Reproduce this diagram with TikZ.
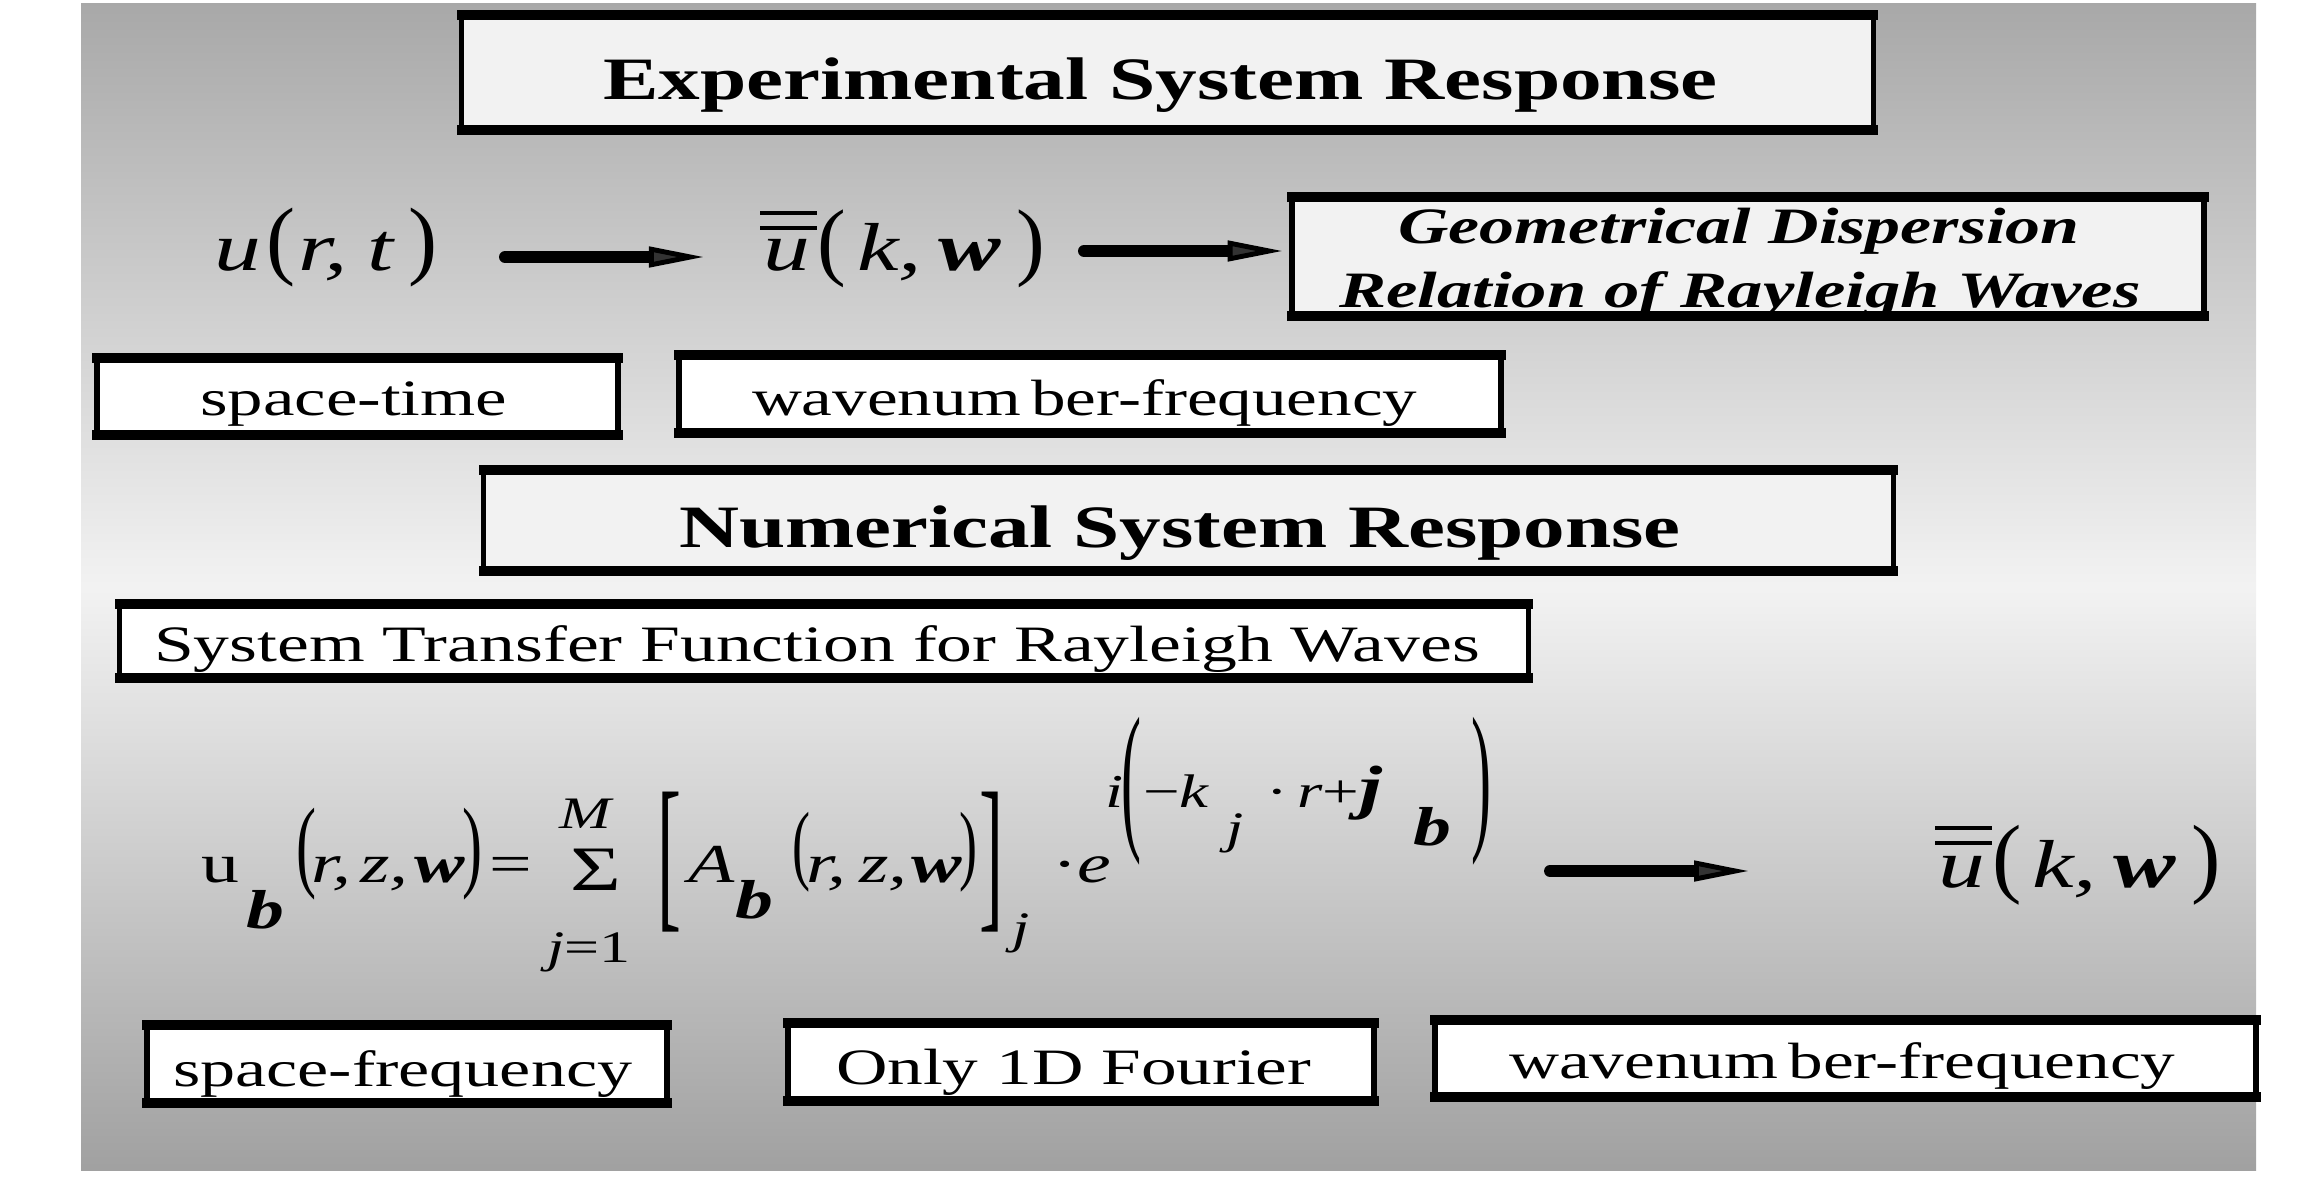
\documentclass[tikz,border=0pt]{standalone}
\usepackage{graphicx}
\usepackage{fontspec}
\setmainfont{Liberation Serif}
\usetikzlibrary{arrows.meta,calc}
\definecolor{bgtop}{gray}{0.66}
\definecolor{bgmid}{gray}{0.95}
\definecolor{bgbot}{gray}{0.63}
\definecolor{boxgray}{gray}{0.95}
\newcommand\sx[2]{\scalebox{1.38}[1]{\fontsize{#1}{#1}\selectfont #2}}
\newcommand\fw[3]{\resizebox{#1}{\height}{\fontsize{#2}{#2}\selectfont #3}}
\newcommand\rz[3]{\resizebox*{#1}{#2}{\fontsize{40pt}{40pt}\selectfont #3}}
\newcommand\bi[1]{\textbf{\textit{#1}}}
\newcommand\edges[1]{\draw[edge] (#1.north west) -- (#1.north east) (#1.south west) -- (#1.south east);}
\def\szU{19.3pt}
\def\szF{15.6pt}
\def\szL{12.8pt}
\def\szE{13.4pt}
\begin{document}
\begin{tikzpicture}[x=0.01cm,y=-0.01cm,
  bx/.style={draw,line width=1.6pt,inner sep=0pt,outer sep=0pt},
  edge/.style={line width=2.8pt,line cap=rect},
  lbl/.style={inner sep=0pt,outer sep=0pt,anchor=base west},
  par/.style={inner sep=0pt,outer sep=0pt,anchor=north west},
  bar/.style={line width=0.9pt},
  bigarrow/.style={line width=3.4pt,line cap=round,
    -{Triangle[length=0.55cm,width=0.2cm,line width=1.4pt,fill=black!80]}}]
\useasboundingbox (0,0) rectangle (2301,1197);
\shade[top color=bgtop,bottom color=bgbot,middle color=bgmid] (81,4) rectangle (2256,1170);

% boxes
\node[bx,fill=boxgray,minimum width=14.11cm,minimum height=1.15cm] (A) at (1167.5,72.5) {};
\node[bx,fill=boxgray,minimum width=9.12cm,minimum height=1.19cm] (B) at (1748,256.5) {};
\node[bx,fill=white,minimum width=5.21cm,minimum height=0.77cm] (C) at (357.5,396.5) {};
\node[bx,fill=white,minimum width=8.22cm,minimum height=0.78cm] (D) at (1090,394) {};
\node[bx,fill=boxgray,minimum width=14.09cm,minimum height=1.01cm] (E) at (1188.5,520.5) {};
\node[bx,fill=white,minimum width=14.08cm,minimum height=0.74cm] (F) at (824,641) {};
\node[bx,fill=white,minimum width=5.20cm,minimum height=0.78cm] (G) at (407,1064) {};
\node[bx,fill=white,minimum width=5.86cm,minimum height=0.78cm] (H) at (1081,1062) {};
\node[bx,fill=white,minimum width=8.21cm,minimum height=0.77cm] (I) at (1845.5,1058.5) {};
\edges{A}\edges{B}\edges{C}\edges{D}\edges{E}\edges{F}\edges{G}\edges{H}\edges{I}

% box texts
\node[lbl] (tA) at (603,100) {\fw{11.14cm}{17.1pt}{\bfseries Experimental System Response}};
\node[lbl] (tB1) at (1398,243) {\fw{6.81cm}{14.5pt}{\bfseries\itshape Geometrical Dispersion}};
\node[lbl] (tB2) at (1339,307) {\fw{8.01cm}{14.5pt}{\bfseries\itshape Relation of Rayleigh Waves}};
\node[lbl] (tC) at (200,415) {\fw{3.07cm}{14.5pt}{space-time}};
\node[lbl] (tD) at (752,415) {\fw{6.65cm}{14.5pt}{wavenum\kern.15em ber-frequency}};
\node[lbl] (tE) at (679,547) {\fw{10.01cm}{17.1pt}{\bfseries Numerical System Response}};
\node[lbl] (tF) at (154,661) {\fw{13.25cm}{14.5pt}{System Transfer Function for Rayleigh Waves}};
\node[lbl] (tG) at (173,1086) {\fw{4.59cm}{14.5pt}{space-frequency}};
\node[lbl] (tH) at (836,1084) {\fw{4.75cm}{14.5pt}{Only 1D Fourier}};
\node[lbl] (tI) at (1509,1078) {\fw{6.66cm}{14.5pt}{wavenum\kern.15em ber-frequency}};

% top row: u(r,t) -> ubar(k,w)
\node[lbl] (r_u) at (214,270) {\sx{\szU}{\itshape u}};
\node[par] (r_lp) at (266,208) {\rz{!}{0.79cm}{(}};
\node[lbl] (r_r) at (298,270) {\sx{\szU}{\itshape r,}};
\node[lbl] (r_t) at (367,270) {\sx{\szU}{\itshape t}};
\node[par] (r_rp) at (408,208) {\rz{!}{0.79cm}{)}};
\node[lbl] (r_ub) at (763,270) {\sx{\szU}{\itshape u}};
\draw[bar] ($(r_ub.base west)+(-3,-57)$) -- ++(57,0) ($(r_ub.base west)+(-3,-42)$) -- ++(57,0);
\node[par] (r_lp2) at (817,210) {\rz{!}{0.78cm}{(}};
\node[lbl] (r_k) at (857,270) {\sx{\szU}{\itshape k,}};
\node[lbl] (r_w) at (938,270) {\sx{\szU}{\bi{w}}};
\node[par] (r_rp2) at (1016,210) {\rz{!}{0.78cm}{)}};

\coordinate (a1s) at (505,257);
\coordinate (a1e) at (704,257);
\draw[bigarrow] (a1s) -- (a1e);
\coordinate (a2s) at (1084,251);
\draw[bigarrow,shorten >=0.09cm] (a2s) -- (a2s -| B.west);

% formula
\node[lbl] (f_u) at (201,882) {\sx{\szF}{u}};
\node[lbl] (f_b1) at (246,928) {\sx{\szF}{\bi{b}}};
\node[par] (f_lp1) at (296,808) {\rz{0.2cm}{0.92cm}{(}};
\node[lbl] (f_r1) at (311,882) {\sx{\szF}{\itshape r,}};
\node[lbl] (f_z1) at (360,882) {\sx{\szF}{\itshape z,}};
\node[lbl] (f_w1) at (414,882) {\sx{\szF}{\bi{w}}};
\node[par] (f_rp1) at (462,808) {\rz{0.2cm}{0.92cm}{)}};
\node[lbl] (f_eq) at (489,882) {\sx{\szF}{=}};
\node[lbl] (f_M) at (559,828) {\sx{\szL}{\itshape M}};
\node[lbl] (f_sig) at (570,890) {\sx{18pt}{Σ}};
\node[lbl] (f_lim) at (547,962) {\sx{\szL}{\textit{j}=1}};
\node[par] (f_lb) at (657,792) {\rz{0.24cm}{1.4cm}{[}};
\node[lbl] (f_A) at (688,882) {\sx{\szF}{\itshape A}};
\node[lbl] (f_b2) at (735,918) {\sx{\szF}{\bi{b}}};
\node[par] (f_lp2) at (792,812) {\rz{0.18cm}{0.8cm}{(}};
\node[lbl] (f_r2) at (806,882) {\sx{\szF}{\itshape r,}};
\node[lbl] (f_z2) at (859,882) {\sx{\szF}{\itshape z,}};
\node[lbl] (f_w2) at (911,882) {\sx{\szF}{\bi{w}}};
\node[par] (f_rp2) at (959,812) {\rz{0.18cm}{0.8cm}{)}};
\node[par] (f_rb) at (979,792) {\rz{0.24cm}{1.4cm}{]}};
\node[lbl] (f_j2) at (1012,943) {\sx{\szL}{\itshape j}};
\node[lbl] (f_e) at (1052,882) {\sx{\szF}{·\textit{e}}};
\node[lbl] (f_i) at (1105,807) {\sx{\szE}{\itshape i}};
\node[par] (f_elp) at (1121,717) {\rz{0.2cm}{1.48cm}{(}};
\node[lbl] (f_k) at (1143,807) {\sx{\szE}{−\textit{k}}};
\node[lbl] (f_j3) at (1226,843) {\sx{\szL}{\itshape j}};
\node[lbl] (f_dr) at (1266,807) {\sx{\szE}{·\kern.15em\textit{r}+{\fontsize{17pt}{17pt}\selectfont\bi{j}}}};
\node[lbl] (f_b3) at (1413,845) {\sx{\szF}{\bi{b}}};
\node[par] (f_erp) at (1471,717) {\rz{0.2cm}{1.48cm}{)}};

\coordinate (a3s) at (1550,871);
\coordinate (a3e) at (1749,871);
\draw[bigarrow] (a3s) -- (a3e);

% bottom right ubar(k,w)
\node[lbl] (g_u) at (1938,887) {\sx{\szU}{\itshape u}};
\draw[bar] ($(g_u.base west)+(-3,-59)$) -- ++(57,0) ($(g_u.base west)+(-3,-44)$) -- ++(57,0);
\node[par] (g_lp) at (1992,825) {\rz{!}{0.8cm}{(}};
\node[lbl] (g_k) at (2032,887) {\sx{\szU}{\itshape k,}};
\node[lbl] (g_w) at (2113,887) {\sx{\szU}{\bi{w}}};
\node[par] (g_rp) at (2191,825) {\rz{!}{0.8cm}{)}};
\end{tikzpicture}
\end{document}
